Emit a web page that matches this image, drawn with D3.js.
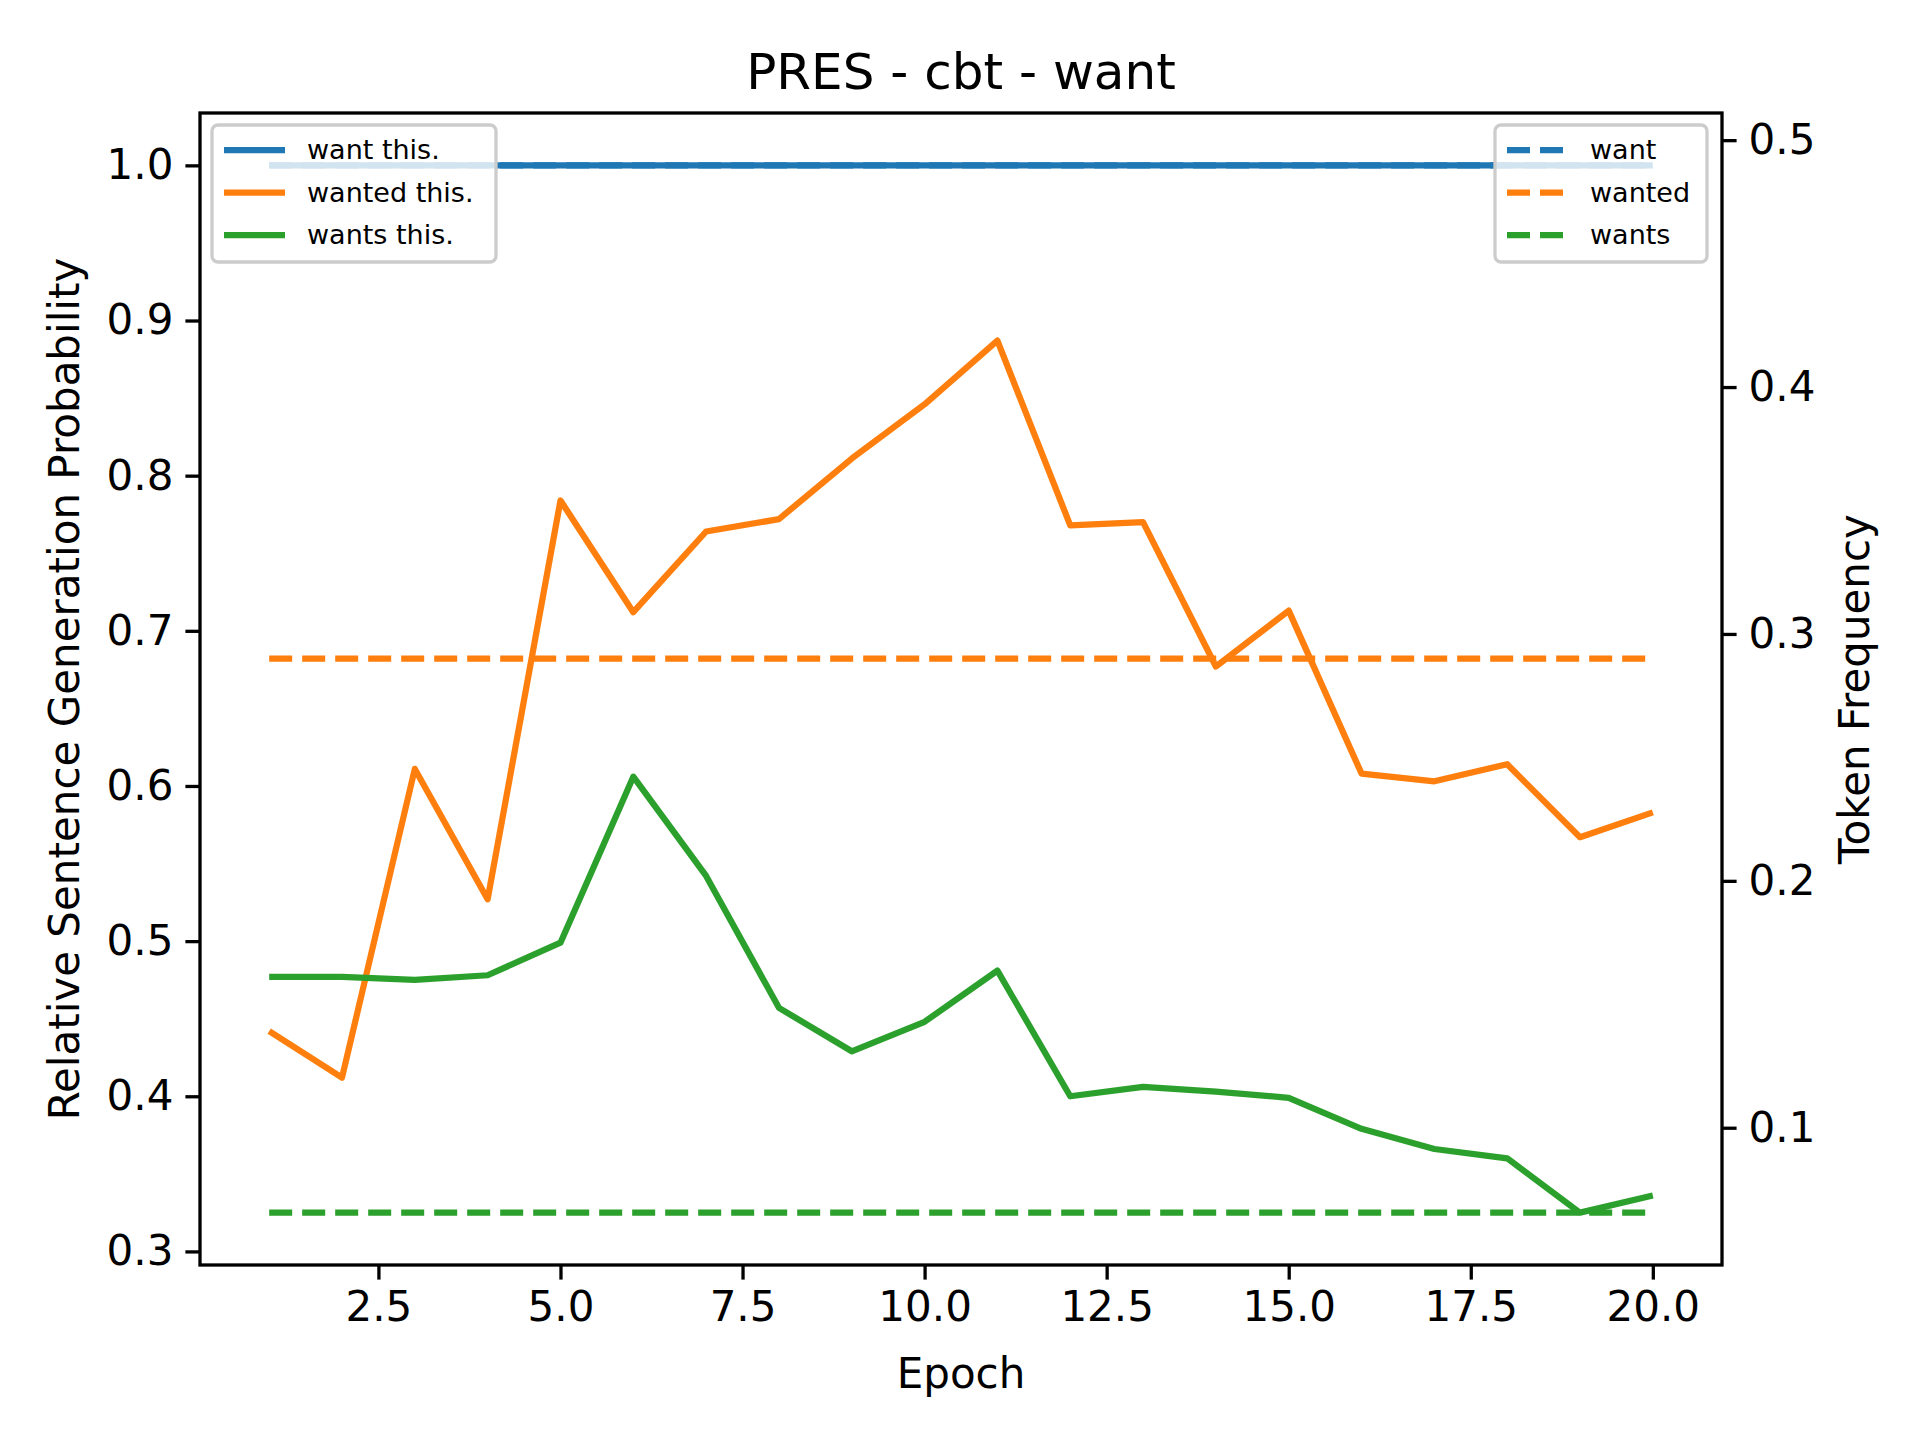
<!DOCTYPE html>
<html><head><meta charset="utf-8">
<script src="https://cdn.jsdelivr.net/npm/d3@7"></script>
<style>body{margin:0;background:#fff}text{font-family:"DejaVu Sans",sans-serif}</style>
</head><body><svg id="c" width="1920" height="1440"></svg>
<script>
// data
var epochs = d3.range(1, 21);
var wantThis = epochs.map(function () { return 1.0; });
var wantedThis = [0.442, 0.412, 0.611, 0.527, 0.784, 0.712, 0.764, 0.772, 0.811, 0.846,
  0.887, 0.768, 0.770, 0.677, 0.713, 0.608, 0.603, 0.614, 0.567, 0.583];
var wantsThis = [0.477, 0.477, 0.475, 0.478, 0.499, 0.606, 0.542, 0.457, 0.429, 0.448,
  0.481, 0.400, 0.406, 0.403, 0.399, 0.379, 0.366, 0.360, 0.325, 0.336];
var tokenNames = ["want", "wanted", "wants"];
var tokenFreq = [0.4898, 0.290, 0.0656];
var sentNames = ["want this.", "wanted this.", "wants this."];
var colors = ["#1f77b4", "#ff7f0e", "#2ca02c"];
var xTicks = [2.5, 5, 7.5, 10, 12.5, 15, 17.5, 20];
var yTicks = [0.3, 0.4, 0.5, 0.6, 0.7, 0.8, 0.9, 1.0];
var y2Ticks = [0.1, 0.2, 0.3, 0.4, 0.5];

var L = 200, R = 1722, T = 113, B = 1265;
var svg = d3.select("#c");
var x = d3.scaleLinear().domain([0.05, 20.95]).range([L, R]);
var y = d3.scaleLinear().domain([0.29125, 1.03375]).range([B, T]);
var y2 = d3.scaleLinear().domain([0.0444, 0.511]).range([B, T]);

function styleAxis(g) {
  g.select(".domain").remove();
  g.selectAll("line").attr("stroke", "#000").attr("stroke-width", 3.3);
  g.selectAll("text").attr("font-size", 42).attr("fill", "#000")
    .attr("font-family", "DejaVu Sans");
}
svg.append("g").attr("transform", "translate(0," + B + ")")
  .call(d3.axisBottom(x).tickValues(xTicks).tickFormat(d3.format(".1f")).tickSize(14.6).tickPadding(12))
  .call(styleAxis);
svg.append("g").attr("transform", "translate(" + L + ",0)")
  .call(d3.axisLeft(y).tickValues(yTicks).tickFormat(d3.format(".1f")).tickSize(14.6).tickPadding(12))
  .call(styleAxis);
svg.append("g").attr("transform", "translate(" + R + ",0)")
  .call(d3.axisRight(y2).tickValues(y2Ticks).tickFormat(d3.format(".1f")).tickSize(14.6).tickPadding(12))
  .call(styleAxis);

var plot = svg.append("g");
// token frequency dashed lines (right axis)
tokenFreq.forEach(function (f, i) {
  plot.append("line").attr("x1", x(1)).attr("x2", x(20)).attr("y1", y2(f)).attr("y2", y2(f))
    .attr("stroke", colors[i]).attr("stroke-width", 6.25).attr("stroke-dasharray", "23,10");
});
var line = d3.line().x(function (d, i) { return x(epochs[i]); }).y(function (d) { return y(d); });
[wantThis, wantedThis, wantsThis].forEach(function (s, i) {
  plot.append("path").attr("d", line(s)).attr("fill", "none")
    .attr("stroke", colors[i]).attr("stroke-width", 6.25).attr("stroke-linejoin", "round");
});

svg.append("rect").attr("x", L).attr("y", T).attr("width", R - L).attr("height", B - T)
  .attr("fill", "none").attr("stroke", "#000").attr("stroke-width", 3.3);

function legend(x0, w, names, dash) {
  var g = svg.append("g");
  g.append("rect").attr("x", x0).attr("y", 125).attr("width", w).attr("height", 137).attr("rx", 6)
    .attr("fill", "#fff").attr("fill-opacity", 0.8).attr("stroke", "#ccc").attr("stroke-width", 3.3);
  names.forEach(function (n, i) {
    var yy = 150 + i * 42.5;
    g.append("line").attr("x1", x0 + 12).attr("x2", x0 + 73).attr("y1", yy).attr("y2", yy)
      .attr("stroke", colors[i]).attr("stroke-width", 6.25).attr("stroke-dasharray", dash ? "23,10" : null);
    g.append("text").attr("x", x0 + 95).attr("y", yy).attr("dy", "0.35em").attr("font-size", 27).text(n);
  });
}
legend(212, 284, sentNames, false);
legend(1495, 212, tokenNames, true);

svg.append("text").attr("x", (L + R) / 2).attr("y", 71).attr("dy", "0.35em").attr("text-anchor", "middle")
  .attr("font-size", 50).text("PRES - cbt - want");
svg.append("text").attr("x", (L + R) / 2).attr("y", 1373).attr("dy", "0.35em").attr("text-anchor", "middle")
  .attr("font-size", 42).text("Epoch");
svg.append("text").attr("transform", "translate(64," + (T + B) / 2 + ") rotate(-90)").attr("dy", "0.35em")
  .attr("text-anchor", "middle").attr("font-size", 42).text("Relative Sentence Generation Probability");
svg.append("text").attr("transform", "translate(1854," + (T + B) / 2 + ") rotate(-90)").attr("dy", "0.35em")
  .attr("text-anchor", "middle").attr("font-size", 42).text("Token Frequency");
</script></body></html>
